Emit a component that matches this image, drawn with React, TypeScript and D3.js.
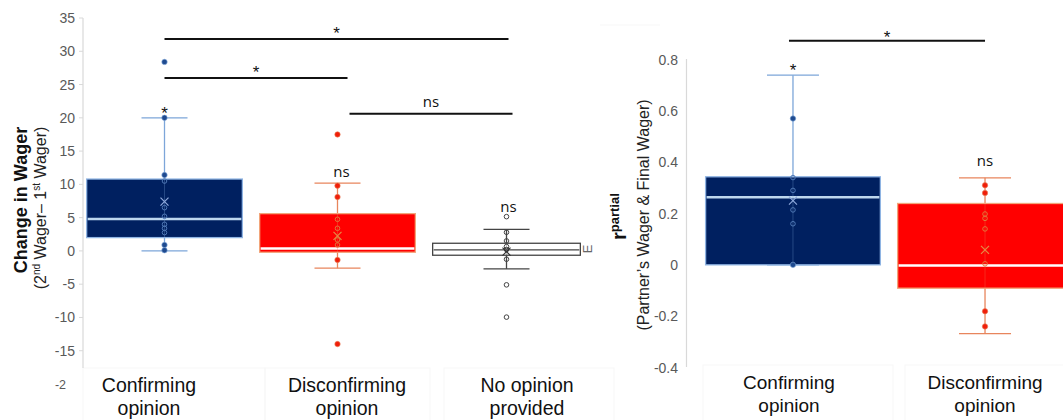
import React from "react";
import * as d3 from "d3";

// ---------- DATA ----------
const leftCategories = ["Confirming opinion", "Disconfirming opinion", "No opinion provided"];
const leftCategoryLines = [["Confirming", "opinion"], ["Disconfirming", "opinion"], ["No opinion", "provided"]];
const leftTicks = [-15, -10, -5, 0, 5, 10, 15, 20, 25, 30, 35];
const leftTruncatedTick = { value: -20, label: "-2" };

// box statistics: [lo whisker, q1, median, q3, hi whisker, mean]
const leftStats = [
  [0, 2.0, 4.8, 10.8, 20, 7.4],
  [-2.6, -0.2, 0.35, 5.6, 10.2, 2.25],
  [-2.7, -0.65, 0.15, 1.15, 3.25, -0.1],
];
const leftFilledPoints = [
  [28.4, 20, 11.4, 0.9, 0.1],
  [17.5, 9.8, 8.1, -1.35, -14],
  [],
];
const leftHollowPoints = [
  [10.5, 6.5, 5.2, 4.0, 3.4, 2.75],
  [4.75, 3.4, 1.65, 0.9],
  [5.15, 2.8, 1.5, 0.65, 0.2, -1.25, -5.1, -9.95],
];
const leftBoxLabels = ["*", "ns", "ns"];
const leftBoxLabelValues = [21.2, 11.8, 6.5];
// brackets: [from category, to category, value, label, x offset start, x offset end]
const leftBrackets = [
  [0, 2, 31.85, "*", 0, -2],
  [0, 1, 26.0, "*", 0, 10],
  [1, 2, 20.6, "ns", 12, 2],
];

const rightCategories = ["Confirming opinion", "Disconfirming opinion"];
const rightCategoryLines = [["Confirming", "opinion"], ["Disconfirming", "opinion"]];
const rightTicks = [-0.4, -0.2, 0, 0.2, 0.4, 0.6, 0.8];
const rightTickLabels = ["-0.4", "-0.2", "0", "0.2", "0.4", "0.6", "0.8"];
const rightStats = [
  [0, 0, 0.263, 0.343, 0.739, 0.25],
  [-0.268, -0.091, -0.003, 0.239, 0.339, 0.058],
];
const rightFilledPoints = [
  [0.57, 0.0],
  [0.31, 0.28, -0.181, -0.24],
];
const rightHollowPoints = [
  [0.34, 0.29, 0.214, 0.16],
  [0.198, 0.181, 0.14, 0.004],
];
const rightBoxLabels = ["*", "ns"];
const rightBoxLabelValues = [0.74, 0.36];
const rightBrackets = [[0, 1, 0.873, "*", -4, 0]];

// ---------- STYLES ----------
const themes = [
  { fill: "#002060", stroke: "#8FB4E3", median: "#BDD7EE", whisker: "#7DA6D9", dot: "#1F4A8F", hollow: "#4F78B5", mean: "#8EA9DB" },
  { fill: "#FF0000", stroke: "#F2A57A", median: "#FFFFFF", whisker: "#E8855C", dot: "#F01E0A", hollow: "#E2773A", mean: "#E58A45" },
  { fill: "#FFFFFF", stroke: "#444444", median: "#444444", whisker: "#444444", dot: "#444444", hollow: "#444444", mean: "#333333" },
];
const SANS = "'Liberation Sans', Arial, sans-serif";
const ANNO = "'Open Sans', 'Liberation Sans', sans-serif";

type BoxProps = {
  stats: number[];
  filled: number[];
  hollow: number[];
  x0: number;
  bw: number;
  y: (v: number) => number;
  theme: typeof themes[0];
  capW: number;
  medianW: number;
};

function Box({ stats, filled, hollow, x0, bw, y, theme, capW, medianW }: BoxProps) {
  const [lo, q1, med, q3, hi, mean] = stats;
  const cx = x0 + bw / 2;
  const m = 4;
  return (
    <g>
      <line x1={cx} x2={cx} y1={y(hi)} y2={y(q3)} stroke={theme.whisker} strokeWidth={1.3} />
      <line x1={cx} x2={cx} y1={y(q1)} y2={y(lo)} stroke={theme.whisker} strokeWidth={1.3} />
      <line x1={cx - capW / 2} x2={cx + capW / 2} y1={y(hi)} y2={y(hi)} stroke={theme.whisker} strokeWidth={1.3} />
      <line x1={cx - capW / 2} x2={cx + capW / 2} y1={y(lo)} y2={y(lo)} stroke={theme.whisker} strokeWidth={1.3} />
      <rect x={x0} y={y(q3)} width={bw} height={y(q1) - y(q3)} fill={theme.fill} stroke={theme.stroke} strokeWidth={1.3} />
      <line x1={x0 + 1} x2={x0 + bw - 1} y1={y(med)} y2={y(med)} stroke={theme.median} strokeWidth={medianW} />
      <line x1={cx} x2={cx} y1={y(q3)} y2={y(q1)} stroke={theme.whisker} strokeWidth={0.6} opacity={0.5} />
      {hollow.map((v, i) => (
        <circle key={"h" + i} cx={cx} cy={y(v)} r={2.3} fill="none" stroke={theme.hollow} strokeWidth={1} />
      ))}
      {filled.map((v, i) => (
        <circle key={"f" + i} cx={cx} cy={y(v)} r={2.7} fill={theme.dot} stroke={theme.whisker} strokeWidth={0.6} />
      ))}
      <path d={`M${cx - m},${y(mean) - m}L${cx + m},${y(mean) + m}M${cx + m},${y(mean) - m}L${cx - m},${y(mean) + m}`} stroke={theme.mean} strokeWidth={1.2} fill="none" />
    </g>
  );
}

export default function App() {
  const W = 1063, H = 420;

  // left panel scales
  const yL = d3.scaleLinear().domain([-20, 35]).range([384, 18]);
  const xL = d3.scaleBand<string>().domain(leftCategories).range([78, 597]).paddingInner(0.1).paddingOuter(0.05);
  const leftLabelCx = [149, 347, 527];

  // right panel scales
  const yR = d3.scaleLinear().domain([-0.4, 0.8]).range([367.5, 59.5]);
  const xR = d3.scaleBand<string>().domain(rightCategories).range([696, 1082]).paddingInner(0.09).paddingOuter(0.05);
  const rightLabelCx = [789, 985];

  const centerL = (i: number) => (xL(leftCategories[i]) as number) + xL.bandwidth() / 2;
  const centerR = (i: number) => (xR(rightCategories[i]) as number) + xR.bandwidth() / 2;

  const annoText = (label: string, x: number, yPix: number, key: string) =>
    label === "*" ? (
      <text key={key} x={x} y={yPix + 9} textAnchor="middle" fontFamily={SANS} fontSize={17} fill="#111">*</text>
    ) : (
      <text key={key} x={x} y={yPix + 4.5} textAnchor="middle" fontFamily={ANNO} fontSize={15} fill="#111">ns</text>
    );

  return (
    <svg width={W} height={H} style={{ position: "absolute", left: 0, top: 0, background: "#fff" }} fontFamily={SANS}>
      {/* faint label frames */}
      <g stroke="#f7f7f7" fill="none" strokeWidth={1}>
        <rect x={83} y={368} width={182} height={60} />
        <rect x={265} y={368} width={165} height={60} />
        <rect x={444} y={368} width={170} height={60} />
        <rect x={703} y={365} width={190} height={60} />
        <rect x={905} y={365} width={170} height={60} />
        <line x1={600} x2={660} y1={25} y2={25} />
      </g>

      {/* ===== LEFT PANEL ===== */}
      <line x1={83} x2={83} y1={yL(35)} y2={368} stroke="#d9d9d9" strokeWidth={1.2} />
      {leftTicks.map((t) => (
        <g key={t}>
          <line x1={79} x2={83} y1={yL(t)} y2={yL(t)} stroke="#d9d9d9" />
          <text x={75} y={yL(t) + 5} textAnchor="end" fontSize={14} fill="#595959">{t}</text>
        </g>
      ))}
      <text x={66} y={yL(leftTruncatedTick.value) + 5} textAnchor="end" fontSize={12.5} fill="#595959">{leftTruncatedTick.label}</text>

      {leftCategories.map((c, i) => (
        <Box
          key={c}
          stats={leftStats[i]}
          filled={leftFilledPoints[i]}
          hollow={leftHollowPoints[i]}
          x0={xL(c) as number}
          bw={i === 2 ? xL.bandwidth() - 8 : xL.bandwidth()}
          y={yL}
          theme={themes[i]}
          capW={46}
          medianW={i === 2 ? 1.3 : 2.5}
        />
      ))}
      {leftBoxLabels.map((l, i) => annoText(l, centerL(i) + (i === 1 ? 4 : i === 2 ? -2 : 0), yL(leftBoxLabelValues[i]), "lb" + i))}
      {leftBrackets.map((b, i) => {
        const [a, z, v, lab, o1, o2] = b as [number, number, number, string, number, number];
        const x1 = centerL(a) + o1, x2 = centerL(z) + o2;
        return (
          <g key={"br" + i}>
            <line x1={x1} x2={x2} y1={yL(v)} y2={yL(v)} stroke="#111" strokeWidth={2} />
            {annoText(lab, (x1 + x2) / 2, yL(v) - (lab === "*" ? 9 : 11), "bt" + i)}
          </g>
        );
      })}
      {leftCategoryLines.map((lines, i) => (
        <text key={"lc" + i} x={leftLabelCx[i]} textAnchor="middle" fontSize={19.5} fill="#111">
          <tspan x={leftLabelCx[i]} y={392}>{lines[0]}</tspan>
          <tspan x={leftLabelCx[i]} y={415}>{lines[1]}</tspan>
        </text>
      ))}
      <text transform="translate(27,200) rotate(-90)" textAnchor="middle" fontSize={18} fontWeight="bold" fill="#111">Change in Wager</text>
      <text transform="translate(46,208) rotate(-90)" textAnchor="middle" fontSize={16} fill="#222">
        (2<tspan dy={-6} fontSize={10}>nd</tspan><tspan dy={6}> Wager– 1</tspan><tspan dy={-6} fontSize={10}>st</tspan><tspan dy={6}> Wager)</tspan>
      </text>

      {/* ===== RIGHT PANEL ===== */}
      <line x1={686.5} x2={686.5} y1={59} y2={367} stroke="#d9d9d9" strokeWidth={1.2} />
      {rightTicks.map((t, i) => (
        <text key={t} x={678} y={yR(t) + 5} textAnchor="end" fontSize={14} fill="#595959">{rightTickLabels[i]}</text>
      ))}
      {rightCategories.map((c, i) => (
        <Box
          key={c}
          stats={rightStats[i]}
          filled={rightFilledPoints[i]}
          hollow={rightHollowPoints[i]}
          x0={xR(c) as number}
          bw={xR.bandwidth()}
          y={yR}
          theme={themes[i]}
          capW={52}
          medianW={2.5}
        />
      ))}
      {rightBoxLabels.map((l, i) => annoText(l, centerR(i), yR(rightBoxLabelValues[i]) - (l === "*" ? 8 : 11), "rb" + i))}
      {rightBrackets.map((b, i) => {
        const [a, z, v, lab, o1, o2] = b as [number, number, number, string, number, number];
        const x1 = centerR(a) + o1, x2 = centerR(z) + o2;
        return (
          <g key={"rbr" + i}>
            <line x1={x1} x2={x2} y1={yR(v)} y2={yR(v)} stroke="#111" strokeWidth={2} />
            {annoText(lab, (x1 + x2) / 2, yR(v) - 7, "rbt" + i)}
          </g>
        );
      })}
      {rightCategoryLines.map((lines, i) => (
        <text key={"rc" + i} x={rightLabelCx[i]} textAnchor="middle" fontSize={19} fill="#111">
          <tspan x={rightLabelCx[i]} y={389}>{lines[0]}</tspan>
          <tspan x={rightLabelCx[i]} y={412}>{lines[1]}</tspan>
        </text>
      ))}
      <text transform="translate(626,240) rotate(-90)" textAnchor="start" fontWeight="bold" fill="#111">
        <tspan fontSize={20}>r</tspan><tspan dy={-7} fontSize={13}>partial</tspan>
      </text>
      <text transform="translate(649,215) rotate(-90)" textAnchor="middle" fontSize={16} fill="#222">(Partner’s Wager &amp; Final Wager)</text>
      <text transform="translate(592,249) rotate(-90)" textAnchor="middle" fontSize={13} fill="#666">E</text>
    </svg>
  );
}
